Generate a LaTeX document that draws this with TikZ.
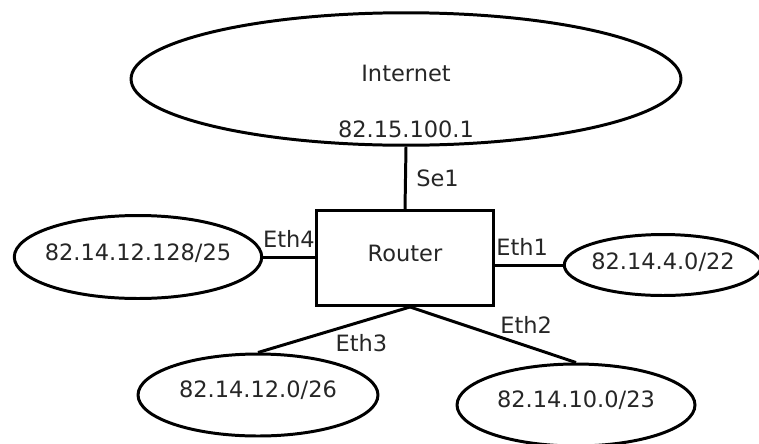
\documentclass[tikz,border=0pt]{standalone}
\usepackage{fontspec}
\setmainfont{DejaVu Sans}
\usetikzlibrary{shapes.geometric,positioning}

\begin{document}
\begin{tikzpicture}[x=0.02cm, y=-0.02cm, line width=1.7pt,
    every node/.style={font=\fontsize{12.8}{15}\selectfont, text=black!85},
    net/.style={ellipse, draw, inner sep=0pt},
    routerbox/.style={rectangle, draw, minimum width=3.55cm, minimum height=1.9cm}]
\clip (0,0) rectangle (759,443);

\node[net, minimum width=11cm, minimum height=2.65cm] (inet) at (406,79) {};
\node at (406,73) {Internet};
\node (inetip) at (406,129) {82.15.100.1};

\node[routerbox] (router) at (405,258) {};
\node at (405,253) {Router};

\node[net, minimum width=4.95cm, minimum height=1.66cm,
      label={[yshift=0.08cm]center:82.14.12.128/25}] (lan4) at (138,257) {};
\node[net, minimum width=3.95cm, minimum height=1.22cm,
      label={[yshift=0.06cm]center:82.14.4.0/22}] (lan1) at (663,265) {};
\node[net, minimum width=4.8cm, minimum height=1.64cm,
      label={[yshift=0.1cm]center:82.14.12.0/26}] (lan3) at (258,395) {};
\node[net, minimum width=4.76cm, minimum height=1.64cm,
      label={[yshift=0.1cm]center:82.14.10.0/23}] (lan2) at (576,405) {};

\draw (inet.south) -- node[right=2pt] {Se1} (router.north);
\draw (lan4.east) -- node[above=1pt, pos=0.5] {Eth4} (lan4.east -| router.west);
\draw (router.east |- lan1.west) -- node[above=1pt, pos=0.4] {Eth1} (lan1.west);
\coordinate (rs) at ([xshift=0.1cm]router.south);
\draw (rs) -- node[above=3pt, pos=0.7] {Eth2} (lan2.north);
\draw (rs) -- node[below=3pt, pos=0.32] {Eth3} (lan3.north);
\end{tikzpicture}
\end{document}
